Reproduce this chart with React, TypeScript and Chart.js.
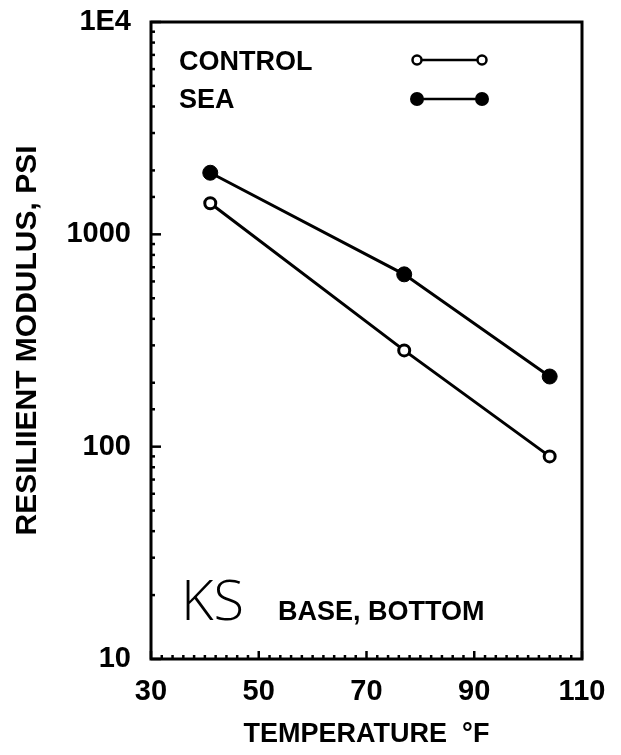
import React, { useEffect, useRef } from "react";
import { Chart, registerables } from "chart.js";

Chart.register(...registerables);

// ---- data ----
const temperatures = [41, 77, 104];
const controlValues = [1400, 284, 90];
const seaValues = [1950, 648, 214];

const xMin = 30;
const xMax = 110;
const xLabeledTicks = [30, 50, 70, 90, 110];
const yMin = 10;
const yMax = 10000;
const yMajorValues = [10, 100, 1000, 10000];
const yMajorLabels = ["10", "100", "1000", "1E4"];

const seriesNames = ["CONTROL", "SEA"];
const xTitle = "TEMPERATURE  °F";
const yTitle = "RESILIIENT MODULUS, PSI";
const siteLabel = "KS";
const layerLabel = "BASE, BOTTOM";

const FONT = '"Liberation Sans", Arial, sans-serif';

const isPow10 = (v: number) => Math.abs(Math.log10(v) - Math.round(Math.log10(v))) < 1e-6;

const framePlugin = {
  id: "frameAndTicks",
  afterDraw(chart: any) {
    const { ctx, chartArea } = chart;
    const { left, right, top, bottom } = chartArea;
    const xs = chart.scales.x;
    const ys = chart.scales.y;
    ctx.save();
    ctx.strokeStyle = "#000";
    ctx.lineWidth = 3;
    ctx.strokeRect(left, top, right - left, bottom - top);

    // inner ticks on y axis
    ctx.lineWidth = 2.5;
    ys.ticks.forEach((t: any) => {
      const y = ys.getPixelForValue(t.value);
      const len = isPow10(t.value) ? 10 : 4;
      ctx.beginPath();
      ctx.moveTo(left, y);
      ctx.lineTo(left + len, y);
      ctx.stroke();
    });
    // inner ticks on x axis
    xs.ticks.forEach((t: any) => {
      const x = xs.getPixelForValue(t.value);
      const len = xLabeledTicks.includes(t.value) ? 8 : 4;
      ctx.beginPath();
      ctx.moveTo(x, bottom);
      ctx.lineTo(x, bottom - len);
      ctx.stroke();
    });

    // legend
    ctx.fillStyle = "#000";
    ctx.textBaseline = "alphabetic";
    ctx.textAlign = "left";
    ctx.font = `bold 27px ${FONT}`;
    ctx.fillText(seriesNames[0], 179, 70);
    ctx.fillText(seriesNames[1], 179, 108);

    const drawLegendLine = (y: number, filled: boolean) => {
      ctx.lineWidth = 2.5;
      ctx.strokeStyle = "#000";
      ctx.beginPath();
      ctx.moveTo(417, y);
      ctx.lineTo(482, y);
      ctx.stroke();
      [417, 482].forEach((cx) => {
        ctx.beginPath();
        if (filled) {
          ctx.arc(cx, y, 7, 0, Math.PI * 2);
          ctx.fillStyle = "#000";
          ctx.fill();
        } else {
          ctx.arc(cx, y, 4.5, 0, Math.PI * 2);
          ctx.fillStyle = "#fff";
          ctx.fill();
          ctx.lineWidth = 2.5;
          ctx.stroke();
        }
      });
    };
    drawLegendLine(60, false);
    drawLegendLine(99, true);

    // annotation
    ctx.fillStyle = "#000";
    ctx.font = `300 56px "Open Sans", ${FONT}`;
    ctx.fillText(siteLabel, 181, 620);
    ctx.font = `bold 27px ${FONT}`;
    ctx.fillText(layerLabel, 278, 620);
    ctx.restore();
  },
};

export default function App() {
  const canvasRef = useRef<HTMLCanvasElement | null>(null);

  useEffect(() => {
    if (!canvasRef.current) return;
    const chart = new Chart(canvasRef.current, {
      type: "line",
      data: {
        datasets: [
          {
            label: seriesNames[0],
            data: temperatures.map((t, i) => ({ x: t, y: controlValues[i] })),
            borderColor: "#000",
            borderWidth: 3,
            pointRadius: 5.5,
            pointBorderWidth: 3,
            pointBackgroundColor: "#fff",
            pointBorderColor: "#000",
            tension: 0,
          },
          {
            label: seriesNames[1],
            data: temperatures.map((t, i) => ({ x: t, y: seaValues[i] })),
            borderColor: "#000",
            borderWidth: 3,
            pointRadius: 7.5,
            pointBorderWidth: 1,
            pointBackgroundColor: "#000",
            pointBorderColor: "#000",
            tension: 0,
          },
        ],
      },
      options: {
        animation: false,
        responsive: false,
        devicePixelRatio: 1,
        layout: { padding: { left: 0, right: 39, top: 22, bottom: 0 } },
        plugins: { legend: { display: false }, tooltip: { enabled: false } },
        scales: {
          x: {
            type: "linear",
            min: xMin,
            max: xMax,
            grid: { display: false, drawTicks: false },
            border: { display: false },
            ticks: {
              stepSize: 2,
              autoSkip: false,
              maxRotation: 0,
              padding: 16,
              color: "#000",
              font: { family: FONT, size: 29, weight: "bold" },
              callback: (v: any) => (xLabeledTicks.includes(Number(v)) ? String(v) : ""),
            },
            title: {
              display: true,
              text: xTitle,
              color: "#000",
              font: { family: FONT, size: 27, weight: "bold" },
              padding: { top: 0, bottom: 4 },
            },
            afterFit: (s: any) => {
              s.height = 96;
              s.paddingLeft = 0;
              s.paddingRight = 0;
            },
          },
          y: {
            type: "logarithmic",
            min: yMin,
            max: yMax,
            grid: { display: false, drawTicks: false },
            border: { display: false },
            ticks: {
              autoSkip: false,
              padding: 20,
              color: "#000",
              font: { family: FONT, size: 29, weight: "bold" },
              callback: (v: any) => {
                const idx = yMajorValues.findIndex((m) => Math.abs(m - Number(v)) < 1e-6 * m);
                return idx >= 0 ? yMajorLabels[idx] : "";
              },
            },
            title: {
              display: true,
              text: yTitle,
              color: "#000",
              font: { family: FONT, size: 30, weight: "bold" },
              padding: { top: 10, bottom: 0 },
            },
            afterFit: (s: any) => {
              s.width = 151;
              s.paddingTop = 0;
              s.paddingBottom = 0;
            },
          },
        },
      },
      plugins: [framePlugin],
    });
    return () => chart.destroy();
  }, []);

  return (
    <div style={{ position: "absolute", left: 0, top: 0, width: 621, height: 755, background: "#fff" }}>
      <canvas ref={canvasRef} width={621} height={755} style={{ display: "block" }} />
    </div>
  );
}
